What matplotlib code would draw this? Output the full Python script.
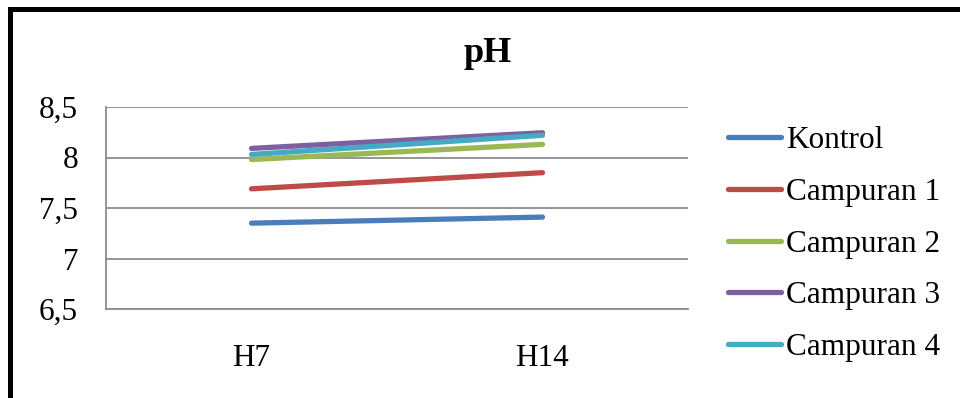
import matplotlib
matplotlib.use("Agg")
import matplotlib.pyplot as plt
from matplotlib.patches import Rectangle

categories = ["H7", "H14"]
series_names = ["Kontrol", "Campuran 1", "Campuran 2", "Campuran 3", "Campuran 4"]
kontrol = [7.35, 7.41]
campuran_1 = [7.69, 7.85]
campuran_2 = [7.98, 8.13]
campuran_3 = [8.09, 8.245]
campuran_4 = [8.03, 8.22]
colors = ["#4A7EBB", "#BE4B48", "#98B954", "#7D60A0", "#46AAC5"]
y_ticks = [6.5, 7, 7.5, 8, 8.5]
y_tick_labels = ["6,5", "7", "7,5", "8", "8,5"]

plt.rcParams["font.family"] = ["Liberation Serif", "DejaVu Serif"]

W, H = 960, 398
fig = plt.figure(figsize=(W / 100, H / 100), dpi=100)

# black frame (only left and top edges visible in the crop)
fig.patches.append(Rectangle((9.5 / W, -0.1), 1.2, 1 - 8.5 / H + 0.1,
                             transform=fig.transFigure, fill=False,
                             edgecolor="black", linewidth=3.6))

ax = fig.add_axes([106 / W, 1 - 309 / H, (688 - 106) / W, (309 - 107) / H])

x = list(range(len(categories)))
all_series = [kontrol, campuran_1, campuran_2, campuran_3, campuran_4]
for name, vals, c in zip(series_names, all_series, colors):
    ax.plot(x, vals, color=c, linewidth=3.8, solid_capstyle="round", label=name)

ax.set_xlim(-0.5, 1.5)
ax.set_ylim(6.5, 8.5)
ax.set_xticks(x)
ax.set_xticklabels(categories, fontsize=22.5)
ax.set_yticks(y_ticks)
ax.set_yticklabels(y_tick_labels, fontsize=22.5)
ax.tick_params(axis="y", length=0, pad=20)
ax.tick_params(axis="x", length=0, pad=25)
ax.grid(axis="y", color="#8c8c8c", linewidth=1.3)
ax.set_axisbelow(True)
for side in ["top", "right"]:
    ax.spines[side].set_visible(False)
for side in ["left", "bottom"]:
    ax.spines[side].set_color("#8c8c8c")
    ax.spines[side].set_linewidth(1.3)

fig.text(488 / W, 1 - 62 / H, "pH", fontsize=26, fontweight="bold",
         ha="center", va="baseline")

fig.legend(loc="upper left", bbox_to_anchor=(728 / W, 1 - 126 / H),
           frameon=False, fontsize=22.5, handlelength=1.7, handletextpad=0.15,
           labelspacing=0.73, borderpad=0, borderaxespad=0)

fig.savefig("out.png", dpi=100)
